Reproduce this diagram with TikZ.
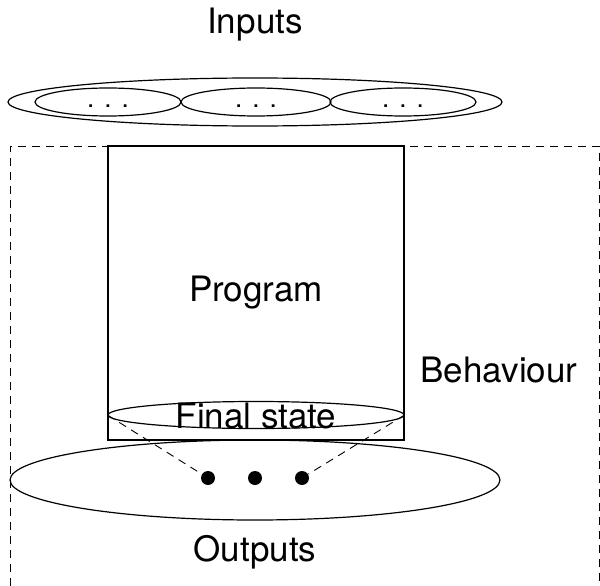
\documentclass[tikz,border=0pt]{standalone}
\usepackage{fontspec}
\setmainfont{TeX Gyre Heros}
\usetikzlibrary{shapes.geometric}
\tikzset{
  every picture/.style={line width=1.2pt},
  lbl/.style={font=\fontsize{35}{40}\selectfont, inner sep=0pt},
  oval/.style={draw, ellipse, inner sep=0pt},
  dots/.style={font=\fontsize{26}{28}\selectfont, inner sep=0pt, anchor=base},
  blob/.style={circle, fill=black, minimum size=14pt, inner sep=0pt},
  guide/.style={dashed, dash pattern=on 8pt off 6pt, line width=0.9pt},
}
\begin{document}
\begin{tikzpicture}[x=1pt, y=-1pt]
\useasboundingbox (0,0) rectangle (600,586);

% behaviour frame (open at the bottom)
\draw[guide] (10,600) -- (10,146) -- (599,146) -- (599,600);

% inputs
\node[oval, minimum width=494pt, minimum height=48pt] (in) at (255,102) {};
\node[oval, minimum width=146pt, minimum height=28pt] (i1) at (108,102) {};
\node[oval, minimum width=150pt, minimum height=28pt] (i2) at (256,102) {};
\node[oval, minimum width=146pt, minimum height=28pt] (i3) at (403,102) {};
\foreach \n in {i1,i2,i3}
  \node[dots] at ([yshift=-5pt]\n.center) {.\hspace{10pt}.\hspace{10pt}.};

% program box
\node[draw, minimum width=296pt, minimum height=294pt, inner sep=0pt] (prog) at (256,293) {};
\node[lbl] (progl) at (256,293) {Program};

% final state
\node[oval, fill=white, minimum width=296pt, minimum height=27pt] (fs) at (256,415) {};
\node[lbl] (fsl) at (256,416) {Final state};

% outputs
\node[oval, minimum width=490pt, minimum height=80pt] (out) at (255,480) {};
\node[blob] (d1) at (208,478) {};
\node[blob] (d2) at (255,478) {};
\node[blob] (d3) at (302,478) {};
\draw[guide] (fs.west) -- (d1);
\draw[guide] (fs.east) -- (d3);

% labels
\node[lbl] (inl) at (255,25) {Inputs};
\node[lbl] (outl) at (255,552) {Outputs};
\node[lbl] (beh) at (499,370) {Behaviour};
\end{tikzpicture}
\end{document}
